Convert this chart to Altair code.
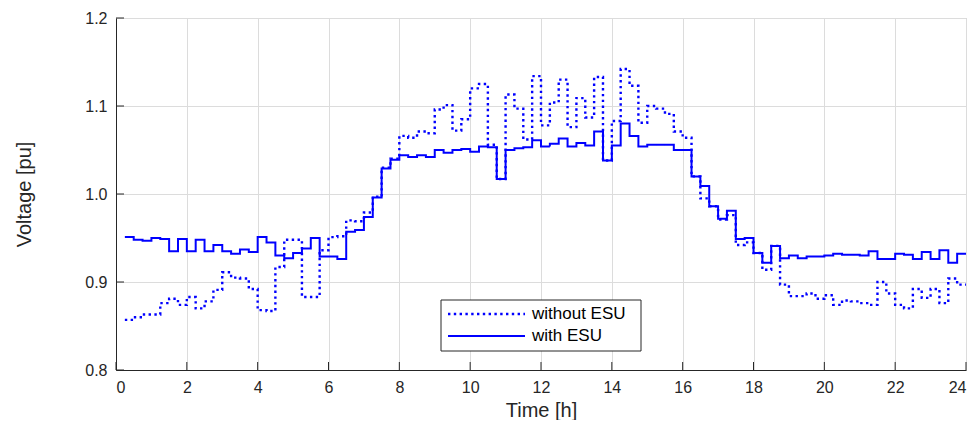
import altair as alt
import pandas as pd

# step start times 0.25 .. 23.75 (15-min resolution), plus end point 24
hours = [0.25 * i for i in range(1, 97)]

with_esu = [
    0.951, 0.948, 0.947, 0.950, 0.949, 0.935, 0.949, 0.935, 0.948, 0.935,
    0.942, 0.935, 0.932, 0.937, 0.934, 0.951, 0.945, 0.930, 0.927, 0.933,
    0.938, 0.950, 0.929, 0.929, 0.926, 0.957, 0.959, 0.974, 0.996, 1.029,
    1.039, 1.044, 1.042, 1.044, 1.042, 1.050, 1.047, 1.050, 1.051, 1.048,
    1.054, 1.053, 1.017, 1.050, 1.052, 1.053, 1.061, 1.054, 1.057, 1.063,
    1.054, 1.058, 1.055, 1.071, 1.038, 1.055, 1.080, 1.066, 1.054, 1.056,
    1.056, 1.056, 1.050, 1.050, 1.020, 1.009, 0.986, 0.972, 0.981, 0.949,
    0.950, 0.933, 0.922, 0.941, 0.927, 0.930, 0.927, 0.929, 0.929, 0.930,
    0.932, 0.931, 0.931, 0.930, 0.935, 0.926, 0.926, 0.932, 0.931, 0.926,
    0.934, 0.926, 0.936, 0.922, 0.932, 0.932,
]

without_esu = [
    0.857, 0.860, 0.863, 0.863, 0.876, 0.881, 0.874, 0.883, 0.870, 0.878,
    0.891, 0.911, 0.905, 0.904, 0.892, 0.868, 0.867, 0.917, 0.948, 0.948,
    0.883, 0.883, 0.936, 0.951, 0.952, 0.970, 0.969, 0.979, 0.997, 1.030,
    1.040, 1.066, 1.064, 1.071, 1.069, 1.096, 1.101, 1.072, 1.085, 1.120,
    1.125, 1.056, 1.017, 1.113, 1.097, 1.062, 1.134, 1.078, 1.104, 1.130,
    1.076, 1.109, 1.087, 1.133, 1.038, 1.083, 1.142, 1.123, 1.081, 1.100,
    1.097, 1.091, 1.071, 1.064, 1.020, 0.995, 0.986, 0.971, 0.976, 0.942,
    0.945, 0.933, 0.914, 0.941, 0.897, 0.884, 0.884, 0.887, 0.881, 0.885,
    0.874, 0.879, 0.878, 0.876, 0.874, 0.900, 0.887, 0.874, 0.870, 0.892,
    0.882, 0.892, 0.876, 0.904, 0.897, 0.897,
]

series_names = ["without ESU", "with ESU"]
x_ticks = list(range(0, 25, 2))
y_ticks = [0.8, 0.9, 1.0, 1.1, 1.2]

df = pd.concat([
    pd.DataFrame({"time": hours, "voltage": without_esu, "series": series_names[0]}),
    pd.DataFrame({"time": hours, "voltage": with_esu, "series": series_names[1]}),
])

W, H = 850, 352
BLUE = "#0000ff"
AX = "#262626"
FONT = "Liberation Sans"
DOT = [2.4, 3.4]

x_scale = alt.Scale(domain=[0, 24], nice=False, zero=False)
y_scale = alt.Scale(domain=[0.8, 1.2], nice=False, zero=False)
x_axis = alt.Axis(values=x_ticks, title="Time [h]", format="d")
y_axis = alt.Axis(values=y_ticks, title="Voltage [pu]", format=".1f")

lines = alt.Chart(df).mark_line(
    interpolate="step-after", color=BLUE, strokeCap="butt"
).encode(
    x=alt.X("time:Q", scale=x_scale, axis=x_axis),
    y=alt.Y("voltage:Q", scale=y_scale, axis=y_axis),
    strokeDash=alt.StrokeDash(
        "series:N",
        scale=alt.Scale(domain=series_names, range=[DOT, [1, 0]]),
        legend=None,
    ),
    strokeWidth=alt.StrokeWidth(
        "series:N",
        scale=alt.Scale(domain=series_names, range=[2.4, 2.0]),
        legend=None,
    ),
)

xt = alt.Chart(pd.DataFrame({"time": x_ticks})).mark_rule(color=AX, strokeWidth=1).encode(
    x=alt.X("time:Q", scale=x_scale, axis=x_axis), y=alt.value(H), y2=alt.value(H - 8)
)
yt = alt.Chart(pd.DataFrame({"voltage": y_ticks})).mark_rule(color=AX, strokeWidth=1).encode(
    y=alt.Y("voltage:Q", scale=y_scale, axis=y_axis), x=alt.value(0), x2=alt.value(8)
)

one = pd.DataFrame({"k": [0]})
box = alt.Chart(one).mark_rect(fill="white", stroke=AX, strokeWidth=1).encode(
    x=alt.value(325), x2=alt.value(525), y=alt.value(282), y2=alt.value(333)
)
leg_dot = alt.Chart(one).mark_rule(color=BLUE, strokeWidth=2.4, strokeDash=DOT).encode(
    x=alt.value(332), x2=alt.value(409), y=alt.value(296)
)
leg_sol = alt.Chart(one).mark_rule(color=BLUE, strokeWidth=2).encode(
    x=alt.value(332), x2=alt.value(409), y=alt.value(318)
)
leg_t1 = alt.Chart(one).mark_text(align="left", baseline="middle", fontSize=17, font=FONT, color="black").encode(
    x=alt.value(416), y=alt.value(296), text=alt.value(series_names[0])
)
leg_t2 = alt.Chart(one).mark_text(align="left", baseline="middle", fontSize=17, font=FONT, color="black").encode(
    x=alt.value(416), y=alt.value(318), text=alt.value(series_names[1])
)

chart = alt.layer(lines, xt, yt, box, leg_dot, leg_sol, leg_t1, leg_t2).properties(
    width=W, height=H,
    autosize=alt.AutoSizeParams(type="none"),
    padding={"left": 108, "top": 10, "right": 5, "bottom": 50},
).configure_view(
    stroke="#bdbdbd", strokeWidth=1
).configure_axis(
    grid=True, gridColor="#dcdcdc", gridWidth=1,
    domainColor=AX, domainWidth=1,
    tickSize=0,
    labelFont=FONT, labelFontSize=16, labelColor=AX,
    titleFont=FONT, titleFontSize=20, titleColor=AX, titleFontWeight="normal",
).configure_axisX(
    labelPadding=9, titlePadding=5,
).configure_axisY(
    labelPadding=9, titlePadding=50,
)

chart.save("out.html", embed_options={"renderer": "svg", "actions": False})
